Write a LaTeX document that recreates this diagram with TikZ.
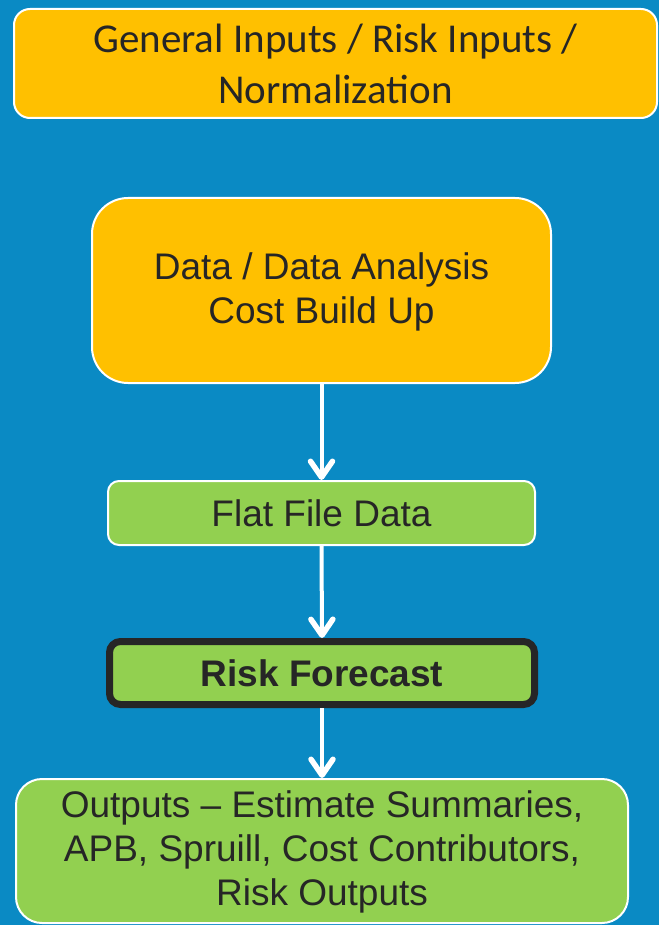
\documentclass[tikz,border=0pt]{standalone}
\usepackage{fontspec}
\usepackage{xcolor}
\usetikzlibrary{arrows.meta}
\setmainfont{Liberation Sans}
\newfontfamily\calibri{Carlito}

\definecolor{panelblue}{HTML}{0A8AC4}
\definecolor{boxorange}{HTML}{FFC000}
\definecolor{boxgreen}{HTML}{92D050}
\definecolor{textgray}{HTML}{262626}

\tikzset{
  box/.style={draw=white, line width=2pt, text=textgray, align=center,
              inner sep=0pt, font=\fontsize{37}{44}\selectfont},
  orangebox/.style={box, fill=boxorange},
  greenbox/.style={box, fill=boxgreen},
  flow/.style={draw=white, line width=4pt,
               -{Straight Barb[length=16pt,width=22pt,line width=5.5pt 0,round]}}
}

\begin{document}
\begin{tikzpicture}[x=1pt, y=-1pt]
\fill [panelblue] (0,0) rectangle (659,925);
\useasboundingbox (0,0) rectangle (659,925);

\node [orangebox, minimum width=643pt, minimum height=109pt, rounded corners=16pt,
       font=\calibri\fontsize{41}{51}\selectfont]
       (inputs) at (335.5,63.5) {General Inputs / Risk Inputs /\\Normalization};
\node [orangebox, minimum width=459pt, minimum height=185pt, rounded corners=36pt,
       text depth=4pt]
       (data) at (321.5,290.5) {Data / Data Analysis\\Cost Build Up};
\node [greenbox, minimum width=427pt, minimum height=64pt, rounded corners=11pt]
       (flat) at (321.5,513) {Flat File Data};
\node [greenbox, draw=textgray, line width=7pt, minimum width=425pt, minimum height=63pt,
       rounded corners=11pt, font=\bfseries\fontsize{37}{44}\selectfont]
       (risk) at (322,673) {Risk Forecast};
\node [greenbox, minimum width=612pt, minimum height=144pt, rounded corners=26pt,
       font=\fontsize{37}{44}\selectfont, text depth=6pt]
       (outputs) at (322,851) {Outputs -- Estimate Summaries,\\APB, Spruill, Cost Contributors,\\Risk Outputs};

\draw [flow] (data.south) -- (flat.north);
\draw [flow] (flat.south) -- (risk.north);
\draw [flow] (risk.south) -- (outputs.north);
\end{tikzpicture}
\end{document}
